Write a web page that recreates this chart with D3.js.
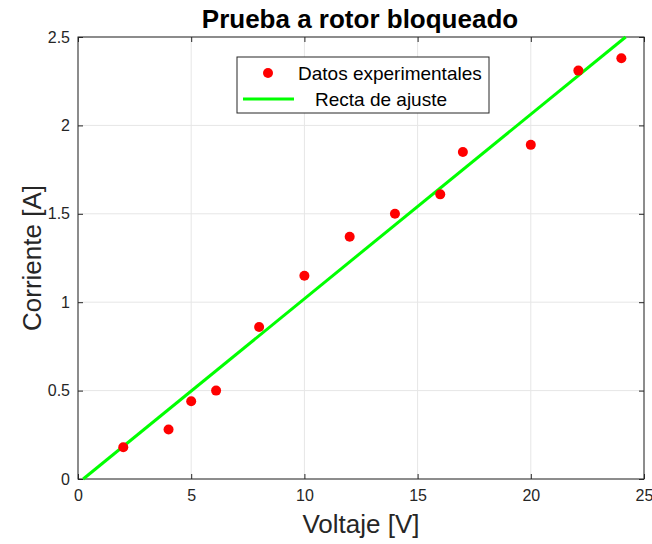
<!DOCTYPE html>
<html><head><meta charset="utf-8">
<script src="https://cdn.jsdelivr.net/npm/d3@7"></script>
<style>body{margin:0;background:#fff}svg{display:block;font-family:"Liberation Sans",Arial,sans-serif}</style>
</head><body><svg id="c" width="652" height="544"></svg>
<script>
const voltage = [2, 4, 5, 6.1, 8, 10, 12, 14, 16, 17, 20, 22.1, 24];
const current = [0.18, 0.28, 0.44, 0.50, 0.86, 1.15, 1.37, 1.50, 1.61, 1.85, 1.89, 2.31, 2.38];
const fitX = [0.23, 24.19];
const fitY = [0, 2.5];
const xTicks = [0, 5, 10, 15, 20, 25];
const yTicks = [0, 0.5, 1, 1.5, 2, 2.5];
const title = "Prueba a rotor bloqueado";
const xLabel = "Voltaje [V]";
const yLabel = "Corriente [A]";
const legendLabels = ["Datos experimentales", "Recta de ajuste"];

const svg = d3.select("#c");
const L = 78, R = 644, T = 37, B = 479;
const x = d3.scaleLinear().domain([0, 25]).range([L, R]);
const y = d3.scaleLinear().domain([0, 2.5]).range([B, T]);

// grid
svg.append("g").selectAll("line").data(xTicks).join("line")
  .attr("x1", d => x(d)).attr("x2", d => x(d)).attr("y1", T).attr("y2", B)
  .attr("stroke", "#e6e6e6").attr("stroke-width", 1);
svg.append("g").selectAll("line").data(yTicks).join("line")
  .attr("y1", d => y(d)).attr("y2", d => y(d)).attr("x1", L).attr("x2", R)
  .attr("stroke", "#e6e6e6").attr("stroke-width", 1);

// axes
const fmt = d => String(d);
const ax = (g, axis) => { g.call(axis); g.select(".domain").remove();
  g.selectAll(".tick line").attr("stroke", "#262626");
  g.selectAll(".tick text").attr("fill", "#262626").attr("font-size", 16).attr("font-family", "Liberation Sans, Arial, sans-serif"); };
svg.append("g").attr("transform", `translate(0,${B})`)
  .call(g => ax(g, d3.axisBottom(x).tickValues(xTicks).tickFormat(fmt).tickSizeInner(-5).tickSizeOuter(0).tickPadding(11)));
svg.append("g").attr("transform", `translate(0,${T})`)
  .call(g => { ax(g, d3.axisTop(x).tickValues(xTicks).tickFormat("").tickSizeInner(-5).tickSizeOuter(0)); });
svg.append("g").attr("transform", `translate(${L},0)`)
  .call(g => ax(g, d3.axisLeft(y).tickValues(yTicks).tickFormat(fmt).tickSizeInner(-5).tickSizeOuter(0).tickPadding(8)));
svg.append("g").attr("transform", `translate(${R},0)`)
  .call(g => ax(g, d3.axisRight(y).tickValues(yTicks).tickFormat("").tickSizeInner(-5).tickSizeOuter(0)));

svg.append("rect").attr("x", L).attr("y", T).attr("width", R - L).attr("height", B - T)
  .attr("fill", "none").attr("stroke", "#262626").attr("stroke-width", 1);

// fit line
svg.append("line")
  .attr("x1", x(fitX[0])).attr("y1", y(fitY[0])).attr("x2", x(fitX[1])).attr("y2", y(fitY[1]))
  .attr("stroke", "#00ff00").attr("stroke-width", 3);

// points
svg.append("g").selectAll("circle").data(voltage).join("circle")
  .attr("cx", d => x(d)).attr("cy", (d, i) => y(current[i])).attr("r", 5)
  .attr("fill", "#ff0000");

// title and labels
svg.append("text").attr("x", 360).attr("y", 28).attr("text-anchor", "middle")
  .attr("font-size", 26).attr("font-weight", "bold").attr("fill", "#000").text(title);
svg.append("text").attr("x", 361).attr("y", 533).attr("text-anchor", "middle")
  .attr("font-size", 26).attr("fill", "#262626").text(xLabel);
svg.append("text").attr("transform", `translate(41,${(T + B) / 2}) rotate(-90)`).attr("text-anchor", "middle")
  .attr("font-size", 26).attr("fill", "#262626").text(yLabel);

// legend
const lg = svg.append("g");
lg.append("rect").attr("x", 237).attr("y", 57).attr("width", 252).attr("height", 56)
  .attr("fill", "#fff").attr("stroke", "#262626").attr("stroke-width", 1);
lg.append("circle").attr("cx", 268).attr("cy", 73).attr("r", 5).attr("fill", "#ff0000");
lg.append("line").attr("x1", 243).attr("x2", 294).attr("y1", 99).attr("y2", 99)
  .attr("stroke", "#00ff00").attr("stroke-width", 3);
lg.append("text").attr("x", 298).attr("y", 80).attr("font-size", 19).attr("fill", "#000").text(legendLabels[0]);
lg.append("text").attr("x", 315).attr("y", 106).attr("font-size", 19).attr("fill", "#000").text(legendLabels[1]);
</script></body></html>
